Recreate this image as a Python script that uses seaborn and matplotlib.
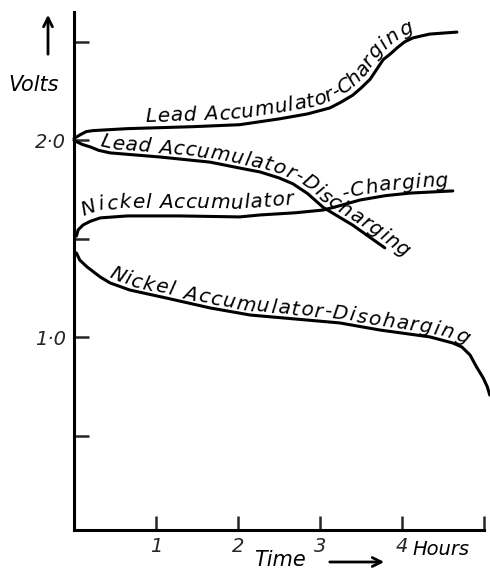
import numpy as np
import pandas as pd
import matplotlib
matplotlib.use("Agg")
import matplotlib.pyplot as plt
import seaborn as sns
from matplotlib.transforms import IdentityTransform

# Curves (hours, volts)
lead_charge_hours = [0.0, 0.08, 0.15, 0.23, 0.65, 1.45, 2.02, 2.51, 2.85, 3.12, 3.25, 3.40, 3.50,
                     3.61, 3.69, 3.77, 3.86, 3.94, 4.03, 4.13, 4.23, 4.34, 4.50, 4.67]
lead_charge_volts = [2.01, 2.03, 2.045, 2.05, 2.06, 2.07, 2.08, 2.11, 2.135, 2.165, 2.193, 2.23, 2.266,
                     2.31, 2.36, 2.41, 2.44, 2.47, 2.50, 2.52, 2.53, 2.54, 2.545, 2.55]

lead_discharge_hours = [0.0, 0.1, 0.2, 0.3, 0.44, 1.05, 1.66, 2.02, 2.27, 2.50, 2.67, 2.85, 3.04, 3.40, 3.79]
lead_discharge_volts = [2.00, 1.98, 1.967, 1.95, 1.937, 1.916, 1.89, 1.86, 1.84, 1.81, 1.78, 1.73, 1.66, 1.57, 1.455]

nickel_charge_hours = [0.03, 0.05, 0.11, 0.2, 0.32, 0.65, 1.29, 2.02, 2.27, 2.7, 3.04, 3.25, 3.49, 3.8, 4.10, 4.62]
nickel_charge_volts = [1.515, 1.546, 1.571, 1.59, 1.607, 1.617, 1.617, 1.612, 1.622, 1.633, 1.647, 1.67, 1.698,
                       1.72, 1.733, 1.744]

nickel_discharge_hours = [0.03, 0.07, 0.16, 0.32, 0.44, 0.68, 1.13, 1.66, 2.15, 3.24, 3.73, 4.34, 4.62,
                          4.73, 4.83, 4.91, 4.99, 5.04, 5.07]
nickel_discharge_volts = [1.429, 1.393, 1.358, 1.307, 1.277, 1.241, 1.20, 1.15, 1.114, 1.074, 1.038, 1.003,
                          0.972, 0.952, 0.911, 0.85, 0.795, 0.75, 0.708]

volt_ticks = [0.5, 1.0, 1.5, 2.0, 2.5]
volt_labels = ["", "1·0", "", "2·0", ""]
hour_ticks = [1, 2, 3, 4, 5]
hour_labels = ["1", "2", "3", "4", ""]

curves = {
    "Lead Accumulator-Charging": (lead_charge_hours, lead_charge_volts),
    "Lead Accumulator-Discharging": (lead_discharge_hours, lead_discharge_volts),
    "Nickel Accumulator-Charging": (nickel_charge_hours, nickel_charge_volts),
    "Nickel Accumulator-Discharging": (nickel_discharge_hours, nickel_discharge_volts),
}
df = pd.concat(
    [pd.DataFrame({"hours": h, "volts": v, "curve": name}) for name, (h, v) in curves.items()],
    ignore_index=True,
)

sns.set_theme(style="white")
plt.rcParams["font.family"] = ["DejaVu Sans"]
plt.rcParams["font.style"] = "italic"
plt.rcParams["text.color"] = "black"


def label_along(ax, hours, volts, text, start, lift=4, size=14.5, track=0.0):
    """Write text letter by letter so it follows a curve."""
    renderer = ax.figure.canvas.get_renderer()
    pts = ax.transData.transform(np.column_stack([hours, volts]))
    steps = np.diff(pts, axis=0)
    cum = np.concatenate([[0.0], np.cumsum(np.hypot(steps[:, 0], steps[:, 1]))])

    def point_at(d):
        i = int(np.clip(np.searchsorted(cum, d) - 1, 0, len(steps) - 1))
        f = (d - cum[i]) / (cum[i + 1] - cum[i])
        return pts[i] + steps[i] * f

    pos = np.interp(start, hours, cum)
    for ch in text:
        t = ax.text(0, 0, ch, transform=IdentityTransform(), fontsize=size,
                    ha="center", va="baseline", rotation_mode="anchor")
        if ch == " ":
            w = 0.32 * size * ax.figure.dpi / 72
        else:
            w = t.get_window_extent(renderer).width
        mid = pos + w / 2
        span = max(w, 16)
        a, b = point_at(mid - span), point_at(mid + span)
        d = (b - a) / np.hypot(*(b - a))
        normal = np.array([-d[1], d[0]])
        t.set_position(point_at(mid) + normal * lift)
        t.set_rotation(np.degrees(np.arctan2(d[1], d[0])))
        pos += w + track


fig = plt.figure(figsize=(4.9, 5.71), dpi=100)
ax = fig.add_axes([74 / 490, 41 / 571, 410 / 490, 518 / 571])

sns.lineplot(data=df, x="hours", y="volts", units="curve", estimator=None, sort=False,
             color="black", lw=2.2, legend=False, ax=ax)
for line in ax.lines:
    line.set_clip_on(False)
    line.set_solid_capstyle("round")
    line.set_solid_joinstyle("round")

ax.set_xlim(0, 5)
ax.set_ylim(0.023, 2.652)
sns.despine(ax=ax)
for side in ["left", "bottom"]:
    ax.spines[side].set_linewidth(2.2)
    ax.spines[side].set_color("black")

ax.set_yticks(volt_ticks)
ax.set_yticklabels(volt_labels)
ax.set_xticks(hour_ticks)
ax.set_xticklabels(hour_labels)
ax.tick_params(axis="y", direction="in", length=11, width=1.8, left=True, pad=6, labelsize=14)
ax.tick_params(axis="x", direction="in", length=10, width=1.8, bottom=True, pad=5, labelsize=14)
ax.set_xlabel("")
ax.set_ylabel("")

# Labels written along the curves
label_along(ax, lead_charge_hours, lead_charge_volts, "Lead Accumulator-Charging", 0.87, lift=6, track=0.8)
label_along(ax, lead_discharge_hours, lead_discharge_volts, "Lead Accumulator-Discharging", 0.3, lift=4, track=0.8)
label_along(ax, nickel_charge_hours, nickel_charge_volts, "Nickel Accumulator", 0.15, lift=8, track=0.8)
label_along(ax, nickel_charge_hours, nickel_charge_volts, "-Charging", 3.3, lift=5, track=0.8)
label_along(ax, nickel_discharge_hours, nickel_discharge_volts, "Nickel Accumulator-Disoharging", 0.4, lift=4, track=1.4)

ax.annotate("Hours", xy=(4.13, 0), xycoords=("data", "axes fraction"), xytext=(0, -7),
            textcoords="offset points", ha="left", va="top", fontsize=14)

# Axis captions with arrows
fig.text(8 / 490, 1 - 91 / 571, "Volts", fontsize=15, ha="left", va="baseline")
ax.annotate("", xy=(48 / 490, 1 - 12 / 571), xytext=(48 / 490, 1 - 57 / 571),
            xycoords="figure fraction", textcoords="figure fraction",
            arrowprops=dict(arrowstyle="->", lw=2, color="black", mutation_scale=16))
fig.text(280 / 490, 1 - 566 / 571, "Time", fontsize=15, ha="center", va="baseline")
ax.annotate("", xy=(387 / 490, 1 - 562 / 571), xytext=(327 / 490, 1 - 562 / 571),
            xycoords="figure fraction", textcoords="figure fraction",
            arrowprops=dict(arrowstyle="->", lw=2, color="black", mutation_scale=16))

fig.savefig("out.png", dpi=100)
plt.close(fig)
